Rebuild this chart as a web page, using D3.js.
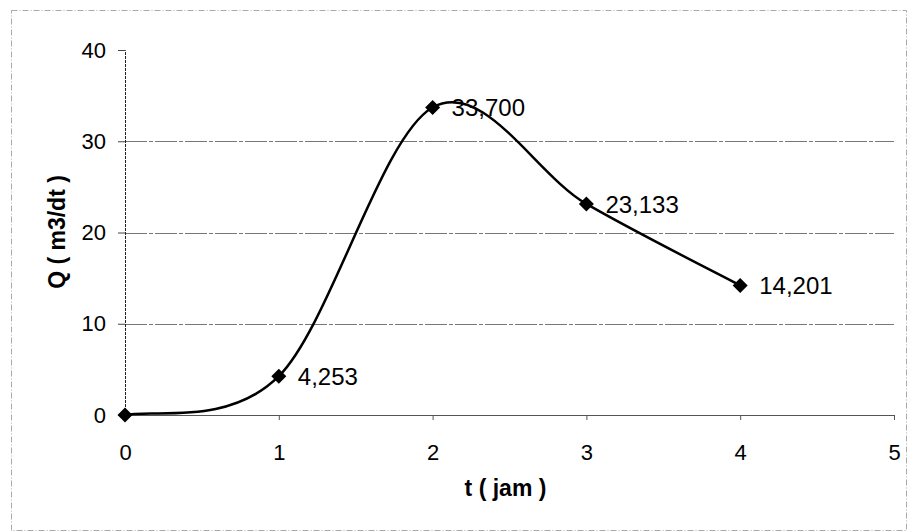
<!DOCTYPE html>
<html>
<head>
<meta charset="utf-8">
<script src="https://cdn.jsdelivr.net/npm/d3@7"></script>
<style>
  body { margin: 0; background: #fff; }
  text { font-family: Arial, "Liberation Sans", sans-serif; fill: #000; }
</style>
</head>
<body>
<svg id="chart"></svg>
<script>
// data
const tJam = [0, 1, 2, 3, 4];
const qValues = [0, 4.253, 33.7, 23.133, 14.201];
const pointLabels = ['', '4,253', '33,700', '23,133', '14,201'];
const xTicks = [0, 1, 2, 3, 4, 5];
const yTicks = [0, 10, 20, 30, 40];

const width = 908, height = 532;
const margin = { left: 125, right: 14, top: 50, bottom: 117 };
const innerW = width - margin.left - margin.right;
const innerH = height - margin.top - margin.bottom;
const FONT = 'Arial, "Liberation Sans", sans-serif';

const svg = d3.select('#chart')
  .attr('width', width)
  .attr('height', height);

// outer chart border (dotted, like the scan)
svg.append('rect')
  .attr('x', 11.5).attr('y', 10.5)
  .attr('width', 895).attr('height', 520)
  .attr('fill', 'none')
  .attr('stroke', '#aaa')
  .attr('stroke-dasharray', '6,2,1,2');

const g = svg.append('g')
  .attr('transform', `translate(${margin.left},${margin.top})`);

const x = d3.scaleLinear().domain([0, 5]).range([0, innerW]);
const y = d3.scaleLinear().domain([0, 40]).range([innerH, 0]);

// gridlines
g.selectAll('.grid')
  .data(yTicks.filter(d => d > 0 && d < 40))
  .join('line')
    .attr('x1', 0).attr('x2', innerW)
    .attr('y1', d => Math.round(y(d)) + 0.5)
    .attr('y2', d => Math.round(y(d)) + 0.5)
    .attr('stroke', '#777')
    .attr('stroke-width', 1)
    .attr('stroke-dasharray', '22,2,4,2');

// x axis
const xAxis = g.append('g')
  .attr('transform', `translate(0,${innerH})`)
  .call(d3.axisBottom(x).tickValues(xTicks).tickSize(5).tickPadding(24).tickFormat(d3.format('d')));
xAxis.select('.domain').attr('stroke', '#555');
xAxis.selectAll('.tick line').attr('stroke', '#555');
xAxis.selectAll('text').attr('font-size', 22).attr('font-family', FONT);

// y axis
const yAxis = g.append('g')
  .call(d3.axisLeft(y).tickValues(yTicks).tickSize(7).tickPadding(12).tickFormat(d3.format('d')));
yAxis.select('.domain').attr('stroke', '#222').attr('stroke-dasharray', '3,1');
yAxis.selectAll('.tick line').attr('stroke', '#444');
yAxis.selectAll('text').attr('font-size', 22).attr('font-family', FONT);

const data = tJam.map((t, i) => ({ t, q: qValues[i], label: pointLabels[i] }));

// Excel-style smoothed line: bezier with control points from neighbours (ends duplicated)
function smoothPath(pts) {
  const p = d3.path();
  p.moveTo(pts[0][0], pts[0][1]);
  for (let i = 0; i < pts.length - 1; i++) {
    const p0 = pts[Math.max(i - 1, 0)], p1 = pts[i], p2 = pts[i + 1], p3 = pts[Math.min(i + 2, pts.length - 1)];
    p.bezierCurveTo(
      p1[0] + (p2[0] - p0[0]) / 6, p1[1] + (p2[1] - p0[1]) / 6,
      p2[0] - (p3[0] - p1[0]) / 6, p2[1] - (p3[1] - p1[1]) / 6,
      p2[0], p2[1]);
  }
  return p.toString();
}

g.append('path')
  .attr('fill', 'none')
  .attr('stroke', '#000')
  .attr('stroke-width', 2.5)
  .attr('d', smoothPath(data.map(d => [x(d.t), y(d.q)])));

// diamond markers
g.selectAll('.marker')
  .data(data)
  .join('path')
    .attr('transform', d => `translate(${x(d.t)},${y(d.q)})`)
    .attr('d', 'M0,-7.5L7.5,0L0,7.5L-7.5,0Z')
    .attr('fill', '#000');

// data labels
g.selectAll('.dlabel')
  .data(data.filter(d => d.label))
  .join('text')
    .attr('x', d => x(d.t) + 19)
    .attr('y', d => y(d.q))
    .attr('dy', '0.36em')
    .attr('font-size', 24)
    .text(d => d.label);

// axis titles
svg.append('text')
  .attr('x', margin.left + innerW / 2 - 4)
  .attr('y', 496)
  .attr('text-anchor', 'middle')
  .attr('font-size', 23)
  .attr('font-weight', 'bold')
  .text('t ( jam )');

svg.append('text')
  .attr('transform', `translate(65,232) rotate(-90)`)
  .attr('text-anchor', 'middle')
  .attr('font-size', 23)
  .attr('font-weight', 'bold')
  .text('Q ( m3/dt )');
</script>
</body>
</html>
